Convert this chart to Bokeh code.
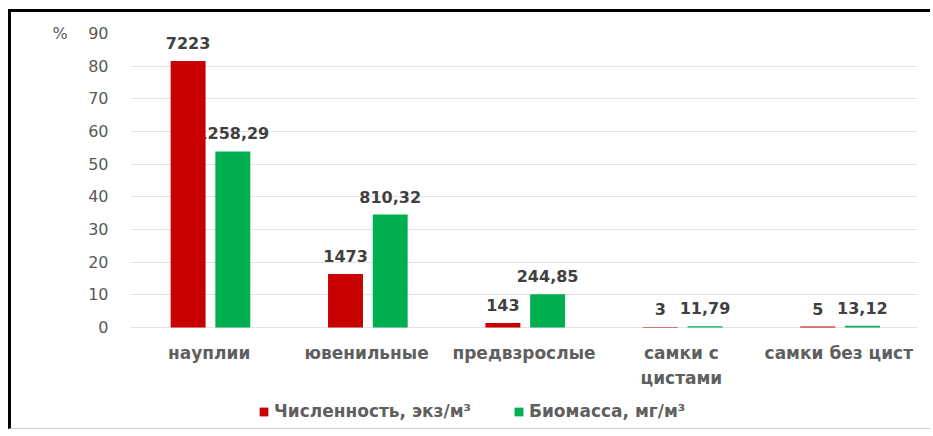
from bokeh.plotting import figure
from bokeh.models import ColumnDataSource, FixedTicker, Legend, LegendItem
from bokeh.transform import dodge
from bokeh.core.properties import value
from bokeh.embed import file_html
from bokeh.resources import INLINE

categories = ["науплии", "ювенильные", "предвзрослые", "самки с цистами", "самки без цист"]
category_labels = ["науплии", "ювенильные", "предвзрослые", "самки с\nцистами", "самки без цист"]
count_pct = [81.6, 16.4, 1.4, 0.2, 0.3]
biomass_pct = [53.9, 34.6, 10.2, 0.4, 0.6]
count_labels = ["7223", "1473", "143", "3", "5"]
biomass_labels = ["1258,29", "810,32", "244,85", "11,79", "13,12"]
y_ticks = [0, 10, 20, 30, 40, 50, 60, 70, 80, 90]
legend_names = ["Численность, экз/м³", "Биомасса, мг/м³"]

RED = "#C80000"
GREEN = "#00B050"
FONT = "DejaVu Sans"

src = ColumnDataSource(dict(cat=categories, catlab=category_labels,
                            zero=[0] * len(categories),
                            cnt=count_pct, bio=biomass_pct,
                            cl=count_labels, bl=biomass_labels))

p = figure(x_range=categories, y_range=(-32.1, 90), width=922, height=420,
           output_backend="svg", toolbar_location=None,
           min_border_left=119, min_border_right=16, min_border_top=21,
           min_border_bottom=0)
p.styles = {"margin-left": "8px", "margin-top": "9px",
            "border-top": "3px solid black", "border-left": "3px solid black",
            "border-bottom": "1px solid #d0d0d0"}
p.outline_line_color = None
p.xgrid.grid_line_color = None
p.ygrid.grid_line_color = "#E3E3E3"
p.ygrid.ticker = FixedTicker(ticks=y_ticks)

p.yaxis.ticker = FixedTicker(ticks=y_ticks)
p.yaxis.axis_line_color = None
p.yaxis.major_tick_line_color = None
p.yaxis.minor_tick_line_color = None
p.yaxis.major_label_standoff = 16
p.yaxis.major_label_text_font = FONT
p.yaxis.major_label_text_font_size = "16px"
p.yaxis.major_label_text_color = "#595959"
p.yaxis.major_label_overrides = {90: "%\u00a0\u00a0\u00a0\u00a090"}

p.xaxis.visible = False

W = 0.222
OFF_R = -0.134
OFF_G = 0.15

g = p.vbar(x=dodge("cat", OFF_G, range=p.x_range), top="bio", width=W, source=src,
           fill_color=GREEN, line_color=None)
p.text(x=dodge("cat", OFF_G, range=p.x_range), y="bio", text="bl", source=src,
       text_align="center", text_baseline="bottom", y_offset=-12,
       text_font=value(FONT), text_font_size="16px", text_font_style="bold",
       text_color="#404040")
r = p.vbar(x=dodge("cat", OFF_R, range=p.x_range), top="cnt", width=W, source=src,
           fill_color=RED, line_color=None)
p.text(x=dodge("cat", OFF_R, range=p.x_range), y="cnt", text="cl", source=src,
       text_align="center", text_baseline="bottom", y_offset=-12,
       text_font=value(FONT), text_font_size="16px", text_font_style="bold",
       text_color="#404040")

# category labels under the zero line
p.text(x="cat", y="zero", text="catlab", source=src,
       text_align="center", text_baseline="top", y_offset=15,
       text_font=value(FONT), text_font_size="17px", text_font_style="bold",
       text_color="#5f5f5f", text_line_height=1.25)

legend = Legend(items=[LegendItem(label=legend_names[0], renderers=[r]),
                       LegendItem(label=legend_names[1], renderers=[g])],
                location=(128, 11), orientation="horizontal",
                glyph_width=11, glyph_height=11, label_standoff=5, spacing=42,
                label_height=20, padding=0, margin=0, border_line_color=None,
                background_fill_alpha=0,
                label_text_font=FONT, label_text_font_size="17px",
                label_text_font_style="bold", label_text_color="#5f5f5f")
p.add_layout(legend, "center")

open("out.html", "w").write(file_html(p, INLINE))
